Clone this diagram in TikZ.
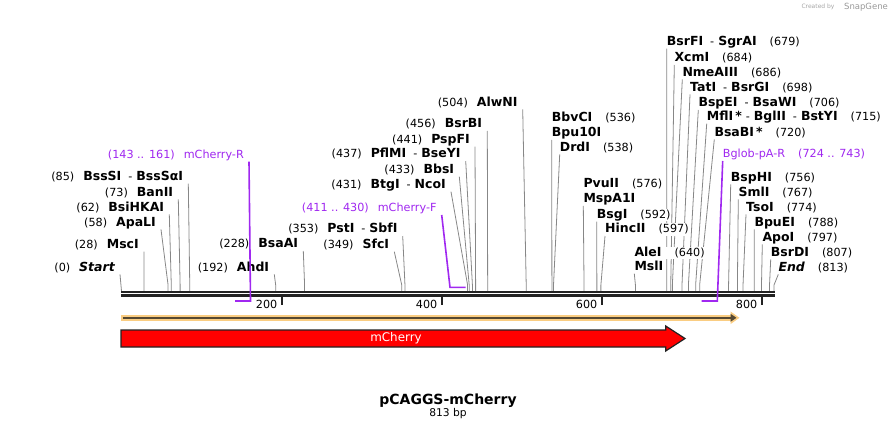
\documentclass[tikz,border=0pt]{standalone}
\usepackage{fontspec}
\setmainfont{DejaVu Sans}
\usetikzlibrary{arrows.meta,backgrounds}
\definecolor{primerPurple}{RGB}{160,40,240}
\definecolor{cutGray}{RGB}{135,135,135}
\definecolor{featOrange}{RGB}{250,205,130}
\definecolor{featDark}{RGB}{85,72,50}
\definecolor{bbBlack}{RGB}{34,34,34}
\newcommand{\enzname}[1]{{\bfseries\fontsize{12.5}{14}\selectfont #1}}
\newcommand{\numgap}{\hspace{9pt}}
\newcommand{\rgap}{\hspace{13pt}}
\newcommand{\enzdash}{\hspace{7pt}-\hspace{4pt}}
\tikzset{every node/.style={font=\fontsize{11.2}{13}\selectfont},
    lbl/.style={fill=white, inner ysep=1pt, text height=8.5pt, text depth=2pt},
    leftLbl/.style={lbl, anchor=base east, inner xsep=5pt},
    rightLbl/.style={lbl, anchor=base west, inner xsep=0pt},
    cutLine/.style={cutGray, line width=0.8pt},
    primer/.style={primerPurple, line width=1.6pt},
    }

\begin{document}
\begin{tikzpicture}[x=1pt, y=-1pt]
	\useasboundingbox (0,0) rectangle (896,430);
	% watermark
	\node[text=black!35, font=\fontsize{6}{7}\selectfont] (createdBy) at (818,7) {Created by};
	\node[text=black!40, font=\fontsize{8.5}{9}\selectfont] (snapGene) at (866,7) {SnapGene};
	% backbone
	\coordinate (bbStart) at (121,293.5);
	\coordinate (bbEnd) at (775,293.5);
	\draw[bbBlack, line width=2.3pt] ([yshift=1.7pt]bbStart) -- ([yshift=1.7pt]bbEnd);
	\draw[bbBlack, line width=3pt] ([yshift=-2.3pt]bbStart) -- ([yshift=-2.3pt]bbEnd);
	\foreach \t in {200,400,600,800}{
		\draw[bbBlack, line width=2pt] ({121.5+0.8*\t},297) -- ({121.5+0.8*\t},304.5);
		\node[anchor=base east, inner sep=0pt] (tick\t) at ({121.5+0.8*\t-4},308) {\t};
	}
	% cut sites
	\coordinate (s0) at (121.5,291); \coordinate (s28) at ({121.5+0.803*28},291);
	\coordinate (s58) at ({121.5+0.803*58},291); \coordinate (s62) at ({121.5+0.803*62},291);
	\coordinate (s73) at ({121.5+0.803*73},291); \coordinate (s85) at ({121.5+0.803*85},291);
	\coordinate (s192) at ({121.5+0.803*192},291); \coordinate (s228) at ({121.5+0.803*228},291);
	\coordinate (s349) at ({121.5+0.803*349},291); \coordinate (s353) at ({121.5+0.803*353},291);
	\coordinate (s431) at ({121.5+0.803*431},291); \coordinate (s433) at ({121.5+0.803*433},291);
	\coordinate (s437) at ({121.5+0.803*437},291); \coordinate (s441) at ({121.5+0.803*441},291);
	\coordinate (s456) at ({121.5+0.803*456},291); \coordinate (s504) at ({121.5+0.803*504},291);
	\coordinate (s536) at ({121.5+0.803*536},291); \coordinate (s538) at ({121.5+0.803*538},291);
	\coordinate (s576) at ({121.5+0.803*576},291); \coordinate (s592) at ({121.5+0.803*592},291);
	\coordinate (s597) at ({121.5+0.803*597},291); \coordinate (s640) at ({121.5+0.803*640},291);
	\coordinate (s679) at ({121.5+0.803*679},291); \coordinate (s684) at ({121.5+0.803*684},291);
	\coordinate (s686) at ({121.5+0.803*686},291); \coordinate (s698) at ({121.5+0.803*698},291);
	\coordinate (s706) at ({121.5+0.803*706},291); \coordinate (s715) at ({121.5+0.803*715},291);
	\coordinate (s720) at ({121.5+0.803*720},291); \coordinate (s756) at ({121.5+0.803*756},291);
	\coordinate (s767) at ({121.5+0.803*767},291); \coordinate (s774) at ({121.5+0.803*774},291);
	\coordinate (s788) at ({121.5+0.803*788},291); \coordinate (s797) at ({121.5+0.803*797},291);
	\coordinate (s807) at ({121.5+0.803*807},291); \coordinate (s813) at (774,291);

	% enzymes left of their site
	\node[leftLbl] (startLbl) at (120,271.2) {(0)\numgap\enzname{\itshape Start}};
	\node[leftLbl] (mscI) at (144,248.5) {(28)\numgap\enzname{MscI}};
	\node[leftLbl] (apaLI) at (161,226.2) {(58)\numgap\enzname{ApaLI}};
	\node[leftLbl] (bsiHKAI) at (169.3,211.2) {(62)\numgap\enzname{BsiHKAI}};
	\node[leftLbl] (banII) at (178.3,196.2) {(73)\numgap\enzname{BanII}};
	\node[leftLbl] (bssSI) at (188.3,180.5) {(85)\numgap\enzname{BssSI}\enzdash\enzname{BssSαI}};
	\node[leftLbl] (ahdI) at (274.3,271.2) {(192)\numgap\enzname{AhdI}};
	\node[leftLbl] (bsaAI) at (303.3,247.8) {(228)\numgap\enzname{BsaAI}};
	\node[leftLbl] (sfcI) at (394.3,248.5) {(349)\numgap\enzname{SfcI}};
	\node[leftLbl] (pstI) at (402.7,232.8) {(353)\numgap\enzname{PstI}\enzdash\enzname{SbfI}};
	\node[leftLbl] (btgI) at (451,188.5) {(431)\numgap\enzname{BtgI}\enzdash\enzname{NcoI}};
	\node[leftLbl] (bbsI) at (459.3,173.5) {(433)\numgap\enzname{BbsI}};
	\node[leftLbl] (pflMI) at (465.7,157.8) {(437)\numgap\enzname{PflMI}\enzdash\enzname{BseYI}};
	\node[leftLbl] (pspFI) at (475,143.5) {(441)\numgap\enzname{PspFI}};
	\node[leftLbl] (bsrBI) at (487.3,127.8) {(456)\numgap\enzname{BsrBI}};
	\node[leftLbl] (alwNI) at (522.7,106.2) {(504)\numgap\enzname{AlwNI}};
	% enzymes right of their site
	\node[rightLbl] (bbvCI) at (551.7,121.5) {\enzname{BbvCI}\rgap(536)};
	\node[rightLbl] (bpu10I) at (551.7,136.8) {\enzname{Bpu10I}};
	\node[rightLbl] (drdI) at (559.7,151.2) {\enzname{DrdI}\rgap(538)};
	\node[rightLbl] (pvuII) at (583.3,187.8) {\enzname{PvuII}\rgap(576)};
	\node[rightLbl] (mspA1I) at (583.3,202.8) {\enzname{MspA1I}};
	\node[rightLbl] (bsgI) at (596.7,218.5) {\enzname{BsgI}\rgap(592)};
	\node[rightLbl] (hincII) at (605,232.8) {\enzname{HincII}\rgap(597)};
	\node[rightLbl] (aleI) at (634.3,256.2) {\enzname{AleI}\rgap(640)};
	\node[rightLbl] (mslI) at (634.3,270.5) {\enzname{MslI}};
	\node[rightLbl] (bsrFI) at (666.7,45.5) {\enzname{BsrFI}\enzdash\enzname{SgrAI}\rgap(679)};
	\node[rightLbl] (xcmI) at (674.3,61.8) {\enzname{XcmI}\rgap(684)};
	\node[rightLbl] (nmeAIII) at (682.3,76.2) {\enzname{NmeAIII}\rgap(686)};
	\node[rightLbl] (tatI) at (690,91.2) {\enzname{TatI}\enzdash\enzname{BsrGI}\rgap(698)};
	\node[rightLbl] (bspEI) at (698.3,106.8) {\enzname{BspEI}\enzdash\enzname{BsaWI}\rgap(706)};
	\node[rightLbl] (mflI) at (706.7,120.5) {\enzname{MflI\,*}\hspace{4pt}-\hspace{4pt}\enzname{BglII}\enzdash\enzname{BstYI}\rgap(715)};
	\node[rightLbl] (bsaBI) at (714.3,136.2) {\enzname{BsaBI\,*}\rgap(720)};
	\node[rightLbl] (bspHI) at (730.7,181.2) {\enzname{BspHI}\rgap(756)};
	\node[rightLbl] (smlI) at (738.3,196.2) {\enzname{SmlI}\rgap(767)};
	\node[rightLbl] (tsoI) at (746,211.2) {\enzname{TsoI}\rgap(774)};
	\node[rightLbl] (bpuEI) at (754.3,226.2) {\enzname{BpuEI}\rgap(788)};
	\node[rightLbl] (apoI) at (762.3,241.2) {\enzname{ApoI}\rgap(797)};
	\node[rightLbl] (bsrDI) at (770.7,256.2) {\enzname{BsrDI}\rgap(807)};
	\node[rightLbl] (endLbl) at (778.3,271.2) {\enzname{\itshape End}\rgap(813)};
	% primers
	\node[leftLbl, text=primerPurple] (mchR) at (249,158.5) {(143 .. 161)\numgap mCherry-R};
	\node[leftLbl, text=primerPurple] (mchF) at (441.7,211.8) {(411 .. 430)\numgap mCherry-F};
	\node[rightLbl, text=primerPurple] (bglob) at (722.7,157.8) {Bglob-pA-R\rgap(724 .. 743)};
	\coordinate (mchRend) at (250.5,301); \coordinate (mchRstart) at (235,301);
	\coordinate (mchFstart) at (450,287.3); \coordinate (mchFend) at (465.5,287.3);
	\coordinate (bglobEnd) at (717.3,301); \coordinate (bglobStart) at (701.5,301);
	\draw[primer] (mchR.south east) -- (mchRend) -- (mchRstart);
	\draw[primer] (mchF.south east) -- (mchFstart) -- (mchFend);
	\draw[primer] (bglob.south west) -- (bglobEnd) -- (bglobStart);

	\begin{scope}[on background layer]
	\draw[cutLine] (startLbl.south east) -- (s0);
	\draw[cutLine] (mscI.south east) -- ([yshift=6pt]s28) -- (s28);
	\draw[cutLine] (apaLI.south east) -- ([yshift=6pt]s58) -- (s58);
	\draw[cutLine] (bsiHKAI.south east) -- ([yshift=6pt]s62) -- (s62);
	\draw[cutLine] (banII.south east) -- ([yshift=6pt]s73) -- (s73);
	\draw[cutLine] (bssSI.south east) -- ([yshift=6pt]s85) -- (s85);
	\draw[cutLine] (ahdI.south east) -- ([yshift=6pt]s192) -- (s192);
	\draw[cutLine] (bsaAI.south east) -- ([yshift=6pt]s228) -- (s228);
	\draw[cutLine] (sfcI.south east) -- ([yshift=6pt]s349) -- (s349);
	\draw[cutLine] (pstI.south east) -- ([yshift=6pt]s353) -- (s353);
	\draw[cutLine] (btgI.south east) -- ([yshift=6pt]s431) -- (s431);
	\draw[cutLine] (bbsI.south east) -- ([yshift=6pt]s433) -- (s433);
	\draw[cutLine] (pflMI.south east) -- ([yshift=6pt]s437) -- (s437);
	\draw[cutLine] (pspFI.south east) -- ([yshift=6pt]s441) -- (s441);
	\draw[cutLine] (bsrBI.south east) -- ([yshift=6pt]s456) -- (s456);
	\draw[cutLine] (alwNI.south east) -- ([yshift=6pt]s504) -- (s504);
	\draw[cutLine] (bpu10I.south west) -- ([yshift=6pt]s536) -- (s536);
	\draw[cutLine] (drdI.south west) -- ([yshift=6pt]s538) -- (s538);
	\draw[cutLine] (mspA1I.south west) -- ([yshift=6pt]s576) -- (s576);
	\draw[cutLine] (bsgI.south west) -- ([yshift=6pt]s592) -- (s592);
	\draw[cutLine] (hincII.south west) -- ([yshift=6pt]s597) -- (s597);
	\draw[cutLine] (mslI.south west) -- ([yshift=6pt]s640) -- (s640);
	\draw[cutLine] (bsrFI.south west) -- ([yshift=6pt]s679) -- (s679);
	\draw[cutLine] (xcmI.south west) -- ([yshift=6pt]s684) -- (s684);
	\draw[cutLine] (nmeAIII.south west) -- ([yshift=6pt]s686) -- (s686);
	\draw[cutLine] (tatI.south west) -- ([yshift=6pt]s698) -- (s698);
	\draw[cutLine] (bspEI.south west) -- ([yshift=6pt]s706) -- (s706);
	\draw[cutLine] (mflI.south west) -- ([yshift=6pt]s715) -- (s715);
	\draw[cutLine] (bsaBI.south west) -- ([yshift=6pt]s720) -- (s720);
	\draw[cutLine] (bspHI.south west) -- ([yshift=6pt]s756) -- (s756);
	\draw[cutLine] (smlI.south west) -- ([yshift=6pt]s767) -- (s767);
	\draw[cutLine] (tsoI.south west) -- ([yshift=6pt]s774) -- (s774);
	\draw[cutLine] (bpuEI.south west) -- ([yshift=6pt]s788) -- (s788);
	\draw[cutLine] (apoI.south west) -- ([yshift=6pt]s797) -- (s797);
	\draw[cutLine] (bsrDI.south west) -- ([yshift=6pt]s807) -- (s807);
	\draw[cutLine] (endLbl.south west) -- ([yshift=6pt]s813) -- (s813);
	\end{scope}

	% features
	\draw[featOrange, line width=5.5pt, -{Triangle[length=9pt,width=12pt]}] (121,317.8) -- (739.5,317.8);
	\draw[featDark, line width=2pt, -{Triangle[length=6pt,width=7.5pt]}] (122.7,317.8) -- (736.5,317.8);
	\filldraw[fill=red, draw=bbBlack, line width=1.2pt] (121,330) -- (665.7,330) -- (665.7,326) -- (685,338.5)
		-- (665.7,351) -- (665.7,347) -- (121,347) -- cycle;
	\node[text=white, font=\fontsize{11.9}{13}\selectfont] (mCherryFeat) at (396,338.5) {mCherry};
	% title
	\node[font=\bfseries\fontsize{14}{16}\selectfont] (plasmidName) at (448,400.5) {pCAGGS-mCherry};
	\node[font=\fontsize{10.7}{12}\selectfont] (plasmidLen) at (448,413.5) {813 bp};
\end{tikzpicture}
\end{document}
